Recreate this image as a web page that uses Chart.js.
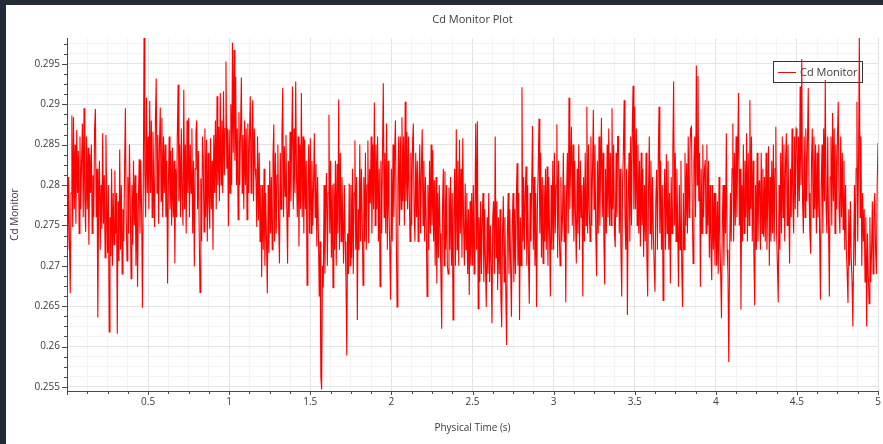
<!DOCTYPE html>
<html>
<head>
<meta charset="utf-8">
<title>Cd Monitor Plot</title>
<script src="https://cdn.jsdelivr.net/npm/chart.js@4.4.1/dist/chart.umd.min.js"></script>
<style>
  html, body { margin: 0; padding: 0; width: 883px; height: 444px; overflow: hidden; background: #232b37; }
  #wrap { position: absolute; left: 6px; top: 5px; width: 877px; height: 439px; background: #ffffff; }
  canvas { display: block; }
</style>
</head>
<body>
<div id="wrap"><canvas id="plot" width="877" height="439"></canvas></div>
<script>
// Drag coefficient monitor, one sample every 0.005 s of physical time
const seriesName = 'Cd Monitor';
const timeStep = 0.005;
const cdMonitor = [
  0.2772,0.2720,0.2810,0.2735,0.2666,0.2790,0.2886,0.2748,0.2884,0.2770,
  0.2850,0.2752,0.2868,0.2790,0.2842,0.2740,0.2860,0.2770,0.2830,0.2876,
  0.2760,0.2895,0.2780,0.2742,0.2860,0.2770,0.2846,0.2726,0.2838,0.2790,
  0.2850,0.2740,0.2812,0.2760,0.2870,0.2894,0.2760,0.2820,0.2636,0.2780,
  0.2830,0.2720,0.2800,0.2746,0.2864,0.2752,0.2812,0.2710,0.2862,0.2780,
  0.2716,0.2800,0.2618,0.2760,0.2712,0.2820,0.2700,0.2790,0.2726,0.2818,
  0.2740,0.2790,0.2616,0.2780,0.2706,0.2844,0.2720,0.2800,0.2690,0.2770,
  0.2730,0.2820,0.2895,0.2760,0.2706,0.2810,0.2740,0.2850,0.2780,0.2684,
  0.2800,0.2726,0.2830,0.2750,0.2812,0.2700,0.2790,0.2674,0.2780,0.2832,
  0.2740,0.2830,0.2770,0.2648,0.2790,0.2983,0.2812,0.2760,0.2908,0.2790,
  0.2860,0.2770,0.2904,0.2790,0.2880,0.2760,0.2866,0.2800,0.2748,0.2880,
  0.2932,0.2790,0.2862,0.2752,0.2850,0.2896,0.2780,0.2883,0.2760,0.2860,
  0.2790,0.2850,0.2760,0.2830,0.2678,0.2800,0.2860,0.2770,0.2842,0.2750,
  0.2846,0.2760,0.2830,0.2703,0.2820,0.2760,0.2860,0.2924,0.2780,0.2850,
  0.2760,0.2870,0.2790,0.2750,0.2918,0.2770,0.2850,0.2740,0.2880,0.2790,
  0.2883,0.2760,0.2850,0.2790,0.2870,0.2740,0.2830,0.2699,0.2820,0.2866,
  0.2880,0.2770,0.2842,0.2740,0.2667,0.2808,0.2730,0.2860,0.2831,0.2742,
  0.2870,0.2760,0.2856,0.2730,0.2840,0.2780,0.2746,0.2858,0.2770,0.2830,
  0.2720,0.2862,0.2790,0.2880,0.2770,0.2910,0.2800,0.2872,0.2780,0.2914,
  0.2800,0.2880,0.2790,0.2916,0.2812,0.2870,0.2953,0.2820,0.2870,0.2749,
  0.2868,0.2790,0.2900,0.2800,0.2976,0.2840,0.2967,0.2830,0.2934,0.2800,
  0.2870,0.2757,0.2890,0.2800,0.2870,0.2933,0.2790,0.2862,0.2770,0.2880,
  0.2800,0.2870,0.2757,0.2876,0.2790,0.2860,0.2910,0.2790,0.2856,0.2905,
  0.2780,0.2870,0.2820,0.2806,0.2748,0.2860,0.2756,0.2840,0.2730,0.2800,
  0.2686,0.2800,0.2720,0.2820,0.2700,0.2790,0.2730,0.2666,0.2800,0.2716,
  0.2830,0.2740,0.2810,0.2720,0.2836,0.2875,0.2730,0.2840,0.2740,0.2812,
  0.2850,0.2750,0.2703,0.2840,0.2770,0.2862,0.2920,0.2760,0.2848,0.2786,
  0.2862,0.2770,0.2703,0.2830,0.2760,0.2866,0.2780,0.2850,0.2922,0.2770,
  0.2870,0.2790,0.2928,0.2810,0.2760,0.2860,0.2724,0.2850,0.2770,0.2914,
  0.2760,0.2860,0.2740,0.2856,0.2770,0.2830,0.2676,0.2800,0.2850,0.2740,
  0.2858,0.2740,0.2830,0.2750,0.2800,0.2864,0.2760,0.2826,0.2724,0.2810,
  0.2742,0.2662,0.2730,0.2562,0.2547,0.2700,0.2673,0.2800,0.2690,0.2780,
  0.2815,0.2700,0.2790,0.2887,0.2740,0.2830,0.2710,0.2800,0.2673,0.2802,
  0.2720,0.2830,0.2700,0.2826,0.2740,0.2906,0.2720,0.2840,0.2730,0.2810,
  0.2760,0.2703,0.2800,0.2730,0.2680,0.2589,0.2740,0.2690,0.2802,0.2700,
  0.2800,0.2710,0.2820,0.2690,0.2790,0.2855,0.2720,0.2810,0.2633,0.2770,
  0.2720,0.2850,0.2730,0.2820,0.2760,0.2676,0.2810,0.2730,0.2840,0.2720,
  0.2800,0.2855,0.2728,0.2820,0.2777,0.2860,0.2740,0.2850,0.2770,0.2902,
  0.2750,0.2850,0.2770,0.2860,0.2730,0.2820,0.2674,0.2830,0.2740,0.2840,
  0.2926,0.2760,0.2840,0.2740,0.2876,0.2720,0.2830,0.2770,0.2720,0.2658,
  0.2820,0.2730,0.2850,0.2760,0.2840,0.2880,0.2740,0.2649,0.2800,0.2860,
  0.2750,0.2860,0.2770,0.2884,0.2780,0.2860,0.2750,0.2903,0.2780,0.2866,
  0.2770,0.2860,0.2790,0.2730,0.2840,0.2750,0.2850,0.2876,0.2770,0.2730,
  0.2840,0.2760,0.2830,0.2730,0.2800,0.2850,0.2740,0.2820,0.2869,0.2750,
  0.2830,0.2730,0.2810,0.2750,0.2662,0.2800,0.2720,0.2830,0.2740,0.2850,
  0.2750,0.2843,0.2730,0.2806,0.2700,0.2810,0.2678,0.2790,0.2710,0.2800,
  0.2740,0.2690,0.2622,0.2770,0.2820,0.2700,0.2817,0.2720,0.2800,0.2700,
  0.2690,0.2797,0.2720,0.2810,0.2700,0.2790,0.2633,0.2760,0.2820,0.2700,
  0.2869,0.2720,0.2830,0.2700,0.2856,0.2740,0.2820,0.2710,0.2858,0.2750,
  0.2700,0.2802,0.2720,0.2790,0.2690,0.2770,0.2664,0.2780,0.2700,0.2790,
  0.2700,0.2800,0.2690,0.2770,0.2876,0.2720,0.2879,0.2647,0.2760,0.2680,
  0.2780,0.2690,0.2760,0.2790,0.2680,0.2770,0.2700,0.2649,0.2760,0.2690,
  0.2790,0.2680,0.2750,0.2700,0.2629,0.2760,0.2780,0.2690,0.2860,0.2710,
  0.2780,0.2670,0.2760,0.2690,0.2770,0.2660,0.2624,0.2740,0.2786,0.2680,
  0.2760,0.2670,0.2602,0.2740,0.2790,0.2690,0.2770,0.2700,0.2637,0.2750,
  0.2790,0.2680,0.2770,0.2690,0.2780,0.2827,0.2700,0.2790,0.2633,0.2760,
  0.2700,0.2921,0.2730,0.2810,0.2720,0.2790,0.2823,0.2700,0.2800,0.2710,
  0.2653,0.2790,0.2730,0.2800,0.2873,0.2720,0.2810,0.2700,0.2790,0.2649,
  0.2770,0.2820,0.2882,0.2740,0.2840,0.2710,0.2810,0.2703,0.2800,0.2730,
  0.2820,0.2720,0.2823,0.2700,0.2810,0.2740,0.2662,0.2800,0.2720,0.2830,
  0.2720,0.2840,0.2740,0.2800,0.2875,0.2710,0.2830,0.2740,0.2700,0.2810,
  0.2730,0.2761,0.2840,0.2730,0.2800,0.2655,0.2790,0.2840,0.2740,0.2908,
  0.2770,0.2830,0.2872,0.2750,0.2850,0.2730,0.2830,0.2760,0.2703,0.2820,
  0.2740,0.2850,0.2720,0.2830,0.2760,0.2800,0.2662,0.2810,0.2730,0.2840,
  0.2750,0.2897,0.2740,0.2850,0.2770,0.2730,0.2860,0.2750,0.2820,0.2893,
  0.2770,0.2850,0.2740,0.2687,0.2830,0.2740,0.2860,0.2750,0.2820,0.2883,
  0.2760,0.2840,0.2730,0.2677,0.2820,0.2740,0.2850,0.2760,0.2870,0.2750,
  0.2840,0.2750,0.2895,0.2770,0.2850,0.2740,0.2723,0.2840,0.2760,0.2860,
  0.2860,0.2740,0.2820,0.2720,0.2662,0.2800,0.2840,0.2905,0.2760,0.2720,
  0.2820,0.2639,0.2780,0.2840,0.2730,0.2860,0.2750,0.2870,0.2923,0.2770,
  0.2897,0.2770,0.2870,0.2750,0.2850,0.2740,0.2830,0.2724,0.2840,0.2750,
  0.2820,0.2711,0.2800,0.2730,0.2840,0.2710,0.2662,0.2790,0.2860,0.2740,
  0.2830,0.2720,0.2810,0.2740,0.2700,0.2668,0.2780,0.2819,0.2720,0.2830,
  0.2897,0.2740,0.2830,0.2720,0.2800,0.2657,0.2770,0.2820,0.2720,0.2838,
  0.2740,0.2830,0.2720,0.2790,0.2678,0.2810,0.2740,0.2840,0.2928,0.2750,
  0.2840,0.2730,0.2820,0.2750,0.2674,0.2800,0.2720,0.2830,0.2700,0.2649,
  0.2790,0.2720,0.2840,0.2750,0.2827,0.2740,0.2860,0.2760,0.2840,0.2870,
  0.2872,0.2770,0.2703,0.2830,0.2860,0.2760,0.2948,0.2800,0.2935,0.2780,
  0.2840,0.2674,0.2820,0.2740,0.2850,0.2760,0.2820,0.2831,0.2740,0.2850,
  0.2750,0.2830,0.2710,0.2800,0.2720,0.2682,0.2800,0.2720,0.2790,0.2700,
  0.2790,0.2700,0.2780,0.2690,0.2810,0.2730,0.2690,0.2635,0.2750,0.2800,
  0.2700,0.2800,0.2740,0.2864,0.2720,0.2690,0.2581,0.2710,0.2790,0.2730,
  0.2820,0.2876,0.2730,0.2840,0.2750,0.2860,0.2760,0.2840,0.2914,0.2750,
  0.2820,0.2646,0.2800,0.2730,0.2850,0.2740,0.2830,0.2760,0.2864,0.2730,
  0.2840,0.2750,0.2905,0.2770,0.2860,0.2730,0.2830,0.2710,0.2651,0.2800,
  0.2720,0.2840,0.2730,0.2800,0.2806,0.2720,0.2840,0.2740,0.2820,0.2736,
  0.2810,0.2730,0.2840,0.2720,0.2780,0.2848,0.2700,0.2810,0.2730,0.2830,
  0.2740,0.2850,0.2730,0.2820,0.2872,0.2740,0.2700,0.2655,0.2800,0.2720,
  0.2840,0.2740,0.2860,0.2760,0.2850,0.2730,0.2830,0.2864,0.2750,0.2850,
  0.2770,0.2703,0.2820,0.2760,0.2870,0.2780,0.2740,0.2860,0.2770,0.2870,
  0.2868,0.2760,0.2860,0.2780,0.2922,0.2800,0.2956,0.2780,0.2740,0.2860,
  0.2760,0.2870,0.2780,0.2850,0.2920,0.2790,0.2740,0.2715,0.2830,0.2870,
  0.2760,0.2860,0.2770,0.2850,0.2740,0.2840,0.2760,0.2850,0.2740,0.2658,
  0.2800,0.2850,0.2740,0.2870,0.2780,0.2930,0.2770,0.2740,0.2860,0.2750,
  0.2662,0.2810,0.2860,0.2750,0.2889,0.2780,0.2870,0.2740,0.2850,0.2770,
  0.2860,0.2903,0.2770,0.2740,0.2860,0.2760,0.2840,0.2745,0.2830,0.2720,
  0.2800,0.2720,0.2690,0.2654,0.2770,0.2700,0.2780,0.2710,0.2680,0.2625,
  0.2720,0.2800,0.2700,0.2820,0.2903,0.2730,0.2830,0.2985,0.2760,0.2860,
  0.2700,0.2790,0.2730,0.2770,0.2680,0.2760,0.2625,0.2740,0.2690,0.2653,
  0.2760,0.2680,0.2715,0.2780,0.2690,0.2770,0.2790,0.2720,0.2690,0.2800,
  0.2852
];
const xTickLabels = ['0.5', '1', '1.5', '2', '2.5', '3', '3.5', '4', '4.5', '5'];
const yTickLabels = ['0.255', '0.26', '0.265', '0.27', '0.275', '0.28', '0.285', '0.29', '0.295'];

const textColor = '#3a3a3a';
const axisColor = '#4a4a4a';
const majorGrid = '#e3e3e3';
const minorGrid = '#f3f3f3';
const uiFont = "'Open Sans', 'Noto Sans', sans-serif";

// every major division is split into four minor ones
function buildTicks(scale, step) {
  const ticks = [];
  const first = Math.ceil(scale.min / step - 1e-6);
  for (let k = first; k * step <= scale.max + 1e-9; k++) {
    ticks.push({ value: +(k * step).toFixed(6), major: k % 4 === 0 });
  }
  scale.ticks = ticks;
}
const tidy = v => String(parseFloat(Number(v).toFixed(4)));

// fixed axis box sizes; edge labels may overhang the plot
function fixSize(scale, key, size) {
  scale[key] = size;
  scale.paddingLeft = 0;
  scale.paddingRight = 0;
  scale.paddingTop = 0;
  scale.paddingBottom = 0;
}

// outward tick marks, longer on the labelled divisions
const tickMarks = {
  id: 'tickMarks',
  afterDraw(chart) {
    const { ctx, chartArea, scales } = chart;
    ctx.save();
    ctx.strokeStyle = axisColor;
    ctx.lineWidth = 1;
    ctx.beginPath();
    scales.x.ticks.forEach(t => {
      const px = Math.round(scales.x.getPixelForValue(t.value)) + 0.5;
      ctx.moveTo(px, chartArea.bottom);
      ctx.lineTo(px, chartArea.bottom + (t.major ? 4 : 3));
    });
    scales.y.ticks.forEach(t => {
      const py = Math.round(scales.y.getPixelForValue(t.value)) + 0.5;
      ctx.moveTo(chartArea.left, py);
      ctx.lineTo(chartArea.left - (t.major ? 5 : 3), py);
    });
    ctx.stroke();
    ctx.restore();
  }
};

// boxed legend in the upper right corner, underneath the trace
const boxLegend = {
  id: 'boxLegend',
  beforeDatasetsDraw(chart) {
    const { ctx, chartArea } = chart;
    const w = 90, h = 22;
    const x0 = chartArea.right - 15 - w, y0 = chartArea.top + 23;
    ctx.save();
    ctx.fillStyle = '#ffffff';
    ctx.fillRect(x0, y0, w, h);
    ctx.strokeStyle = '#333333';
    ctx.lineWidth = 1;
    ctx.strokeRect(x0 + 0.5, y0 + 0.5, w - 1, h - 1);
    const cy = y0 + h / 2 + 0.5;
    ctx.strokeStyle = chart.data.datasets[0].borderColor;
    ctx.beginPath();
    ctx.moveTo(x0 + 5, cy);
    ctx.lineTo(x0 + 23, cy);
    ctx.stroke();
    ctx.fillStyle = textColor;
    ctx.font = "11px " + uiFont;
    ctx.textBaseline = 'middle';
    ctx.fillText(chart.data.datasets[0].label, x0 + 27, cy);
    ctx.restore();
  }
};

const points = cdMonitor.map((v, i) => ({ x: +(i * timeStep).toFixed(3), y: v }));

new Chart(document.getElementById('plot'), {
  type: 'line',
  data: {
    datasets: [{
      label: seriesName,
      data: points,
      borderColor: '#ff0000',
      borderWidth: 1.1,
      pointRadius: 0,
      tension: 0,
      fill: false
    }]
  },
  options: {
    responsive: false,
    animation: false,
    devicePixelRatio: 1,
    layout: { padding: { left: 0, right: 5, top: 0, bottom: 0 } },
    plugins: {
      legend: { display: false },
      tooltip: { enabled: false },
      title: {
        display: true,
        text: 'Cd Monitor Plot',
        fullSize: false,
        color: textColor,
        font: { family: uiFont, size: 11, weight: 'normal', lineHeight: 1.2 },
        padding: { top: 8, bottom: 11.8 }
      }
    },
    scales: {
      x: {
        type: 'linear',
        min: 0,
        max: 5,
        afterBuildTicks: s => buildTicks(s, 0.125),
        afterFit: s => fixSize(s, 'height', 53),
        ticks: {
          autoSkip: false,
          maxRotation: 0,
          padding: 5,
          color: textColor,
          font: { family: uiFont, size: 10 },
          callback: v => (xTickLabels.includes(tidy(v)) ? tidy(v) : '')
        },
        grid: {
          drawTicks: false,
          color: c => (c.tick && c.tick.major ? majorGrid : minorGrid)
        },
        border: { display: true, color: axisColor, width: 1 },
        title: {
          display: true,
          text: 'Physical Time (s)',
          color: textColor,
          font: { family: uiFont, size: 10, lineHeight: 1.2 },
          padding: { top: 0, bottom: 10 }
        }
      },
      y: {
        type: 'linear',
        min: 0.2545,
        max: 0.2982,
        afterBuildTicks: s => buildTicks(s, 0.00125),
        afterFit: s => fixSize(s, 'width', 61),
        ticks: {
          autoSkip: false,
          padding: 7,
          color: textColor,
          font: { family: uiFont, size: 10 },
          callback: v => (yTickLabels.includes(tidy(v)) ? tidy(v) : '')
        },
        grid: {
          drawTicks: false,
          color: c => (c.tick && c.tick.major ? majorGrid : minorGrid)
        },
        border: { display: true, color: axisColor, width: 1 },
        title: {
          display: true,
          text: 'Cd Monitor',
          color: textColor,
          font: { family: uiFont, size: 10, lineHeight: 1.2 },
          padding: { top: 3, bottom: 0 }
        }
      }
    }
  },
  plugins: [tickMarks, boxLegend]
});
</script>
</body>
</html>
